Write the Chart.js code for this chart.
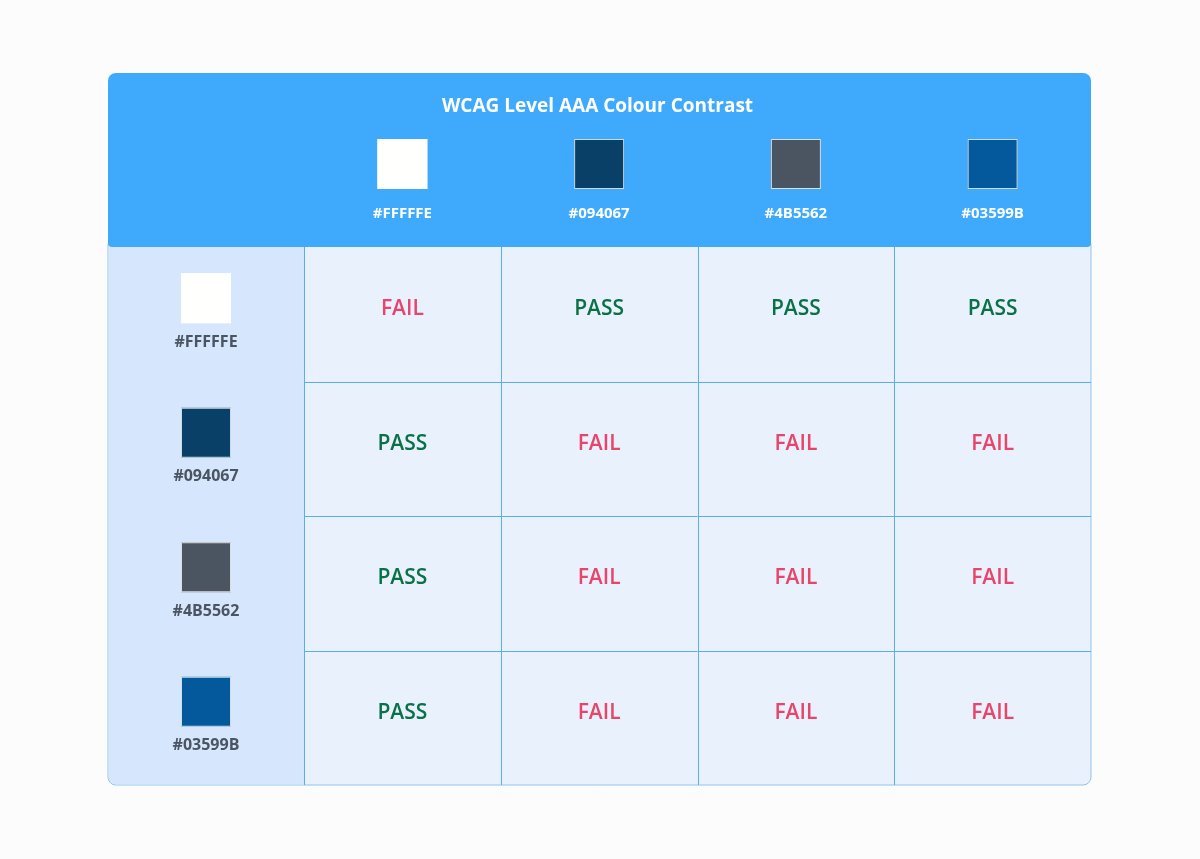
<!DOCTYPE html>
<html lang="en">
<head>
  <meta charset="UTF-8">
  <title>WCAG Level AAA Colour Contrast</title>
  <script src="https://cdn.jsdelivr.net/npm/chart.js"></script>
  <style>
    body { margin: 0; background: #fcfcfc; }
    #wrap { width: 1200px; height: 859px; }
  </style>
</head>
<body>
  <div id="wrap"><canvas id="grid"></canvas></div>
  <script>
    const title = 'WCAG Level AAA Colour Contrast';
    const colours = ['#FFFFFE', '#094067', '#4B5562', '#03599B'];
    // results[row][col]
    const results = [
      ['FAIL', 'PASS', 'PASS', 'PASS'],
      ['PASS', 'FAIL', 'FAIL', 'FAIL'],
      ['PASS', 'FAIL', 'FAIL', 'FAIL'],
      ['PASS', 'FAIL', 'FAIL', 'FAIL']
    ];

    const points = [];
    results.forEach((row, r) => row.forEach((v, c) => points.push({ x: c + 0.5, y: r + 0.5, v: v })));

    function rr(ctx, x, y, w, h, rad) {
      ctx.beginPath();
      ctx.roundRect(x, y, w, h, rad);
    }

    // draws the table around the chart area
    const tablePlugin = {
      id: 'table',
      beforeDatasetsDraw(chart) {
        const ctx = chart.ctx, xs = chart.scales.x, ys = chart.scales.y;
        const left = xs.getPixelForValue(0), right = xs.getPixelForValue(4);
        const top = ys.getPixelForValue(0), bottom = ys.getPixelForValue(4);
        const outer = 108, headTop = 73;
        ctx.save();
        // body
        ctx.fillStyle = '#e9f1fd';
        rr(ctx, outer, top - 10, right - outer, bottom - top + 10, 8); ctx.fill();
        ctx.strokeStyle = '#8cc4f0'; ctx.lineWidth = 1; ctx.stroke();
        ctx.fillStyle = '#d6e6fc';
        rr(ctx, outer + 0.5, top, left - outer, bottom - top - 0.5, [0, 0, 0, 8]); ctx.fill();
        // header
        ctx.fillStyle = '#3fa9fc';
        rr(ctx, outer, headTop, right - outer, top - headTop, [8, 8, 4, 4]); ctx.fill();
        // grid lines
        ctx.strokeStyle = '#5aaeea';
        for (let i = 0; i <= 3; i++) {
          const px = Math.round(xs.getPixelForValue(i)) + 0.5;
          ctx.beginPath(); ctx.moveTo(px, top); ctx.lineTo(px, bottom); ctx.stroke();
        }
        for (let j = 1; j <= 3; j++) {
          const py = Math.round(ys.getPixelForValue(j)) + 0.5;
          ctx.beginPath(); ctx.moveTo(left, py); ctx.lineTo(right, py); ctx.stroke();
        }
        ctx.textAlign = 'center'; ctx.textBaseline = 'middle';
        ctx.fillStyle = '#ffffff';
        ctx.font = 'bold 19px "Open Sans"';
        ctx.fillText(title, (left + right) / 2 - 100, 107);
        // column headers
        colours.forEach((col, c) => {
          const cx = xs.getPixelForValue(c + 0.5);
          ctx.fillStyle = col;
          ctx.fillRect(cx - 25, 139, 50, 50);
          ctx.strokeStyle = 'rgba(255,255,255,0.8)';
          ctx.strokeRect(cx - 25 + 0.5, 139.5, 49, 49);
          ctx.fillStyle = '#ffffff';
          ctx.font = 'bold 15px "Open Sans"';
          ctx.fillText(col, cx, 214);
        });
        // row headers
        colours.forEach((col, r) => {
          const cy = ys.getPixelForValue(r + 0.5);
          const cx = (outer + left) / 2;
          ctx.fillStyle = col;
          ctx.fillRect(cx - 25, cy - 41, 50, 50);
          ctx.strokeStyle = 'rgba(255,255,255,0.8)';
          ctx.strokeRect(cx - 25 + 0.5, cy - 40.5, 49, 49);
          ctx.fillStyle = '#4b5562';
          ctx.font = 'bold 16px "Open Sans"';
          ctx.fillText(col, cx, cy + 28);
        });
        ctx.restore();
      },
      afterDatasetsDraw(chart) {
        const ctx = chart.ctx, xs = chart.scales.x, ys = chart.scales.y;
        ctx.save();
        ctx.textAlign = 'center'; ctx.textBaseline = 'middle';
        ctx.font = '600 21px "Open Sans"';
        chart.data.datasets[0].data.forEach(p => {
          ctx.fillStyle = p.v === 'PASS' ? '#0a7146' : '#e8456a';
          ctx.fillText(p.v, xs.getPixelForValue(p.x), ys.getPixelForValue(p.y) - 5);
        });
        ctx.restore();
      }
    };

    new Chart(document.getElementById('grid'), {
      type: 'scatter',
      data: { datasets: [{ data: points, pointRadius: 0 }] },
      options: {
        responsive: true,
        maintainAspectRatio: false,
        animation: false,
        layout: { padding: { left: 304, right: 109, top: 247, bottom: 74 } },
        plugins: { legend: { display: false }, tooltip: { enabled: false } },
        scales: {
          x: { type: 'linear', min: 0, max: 4, display: false },
          y: { type: 'linear', min: 0, max: 4, reverse: true, display: false }
        }
      },
      plugins: [tablePlugin]
    });
  </script>
</body>
</html>
